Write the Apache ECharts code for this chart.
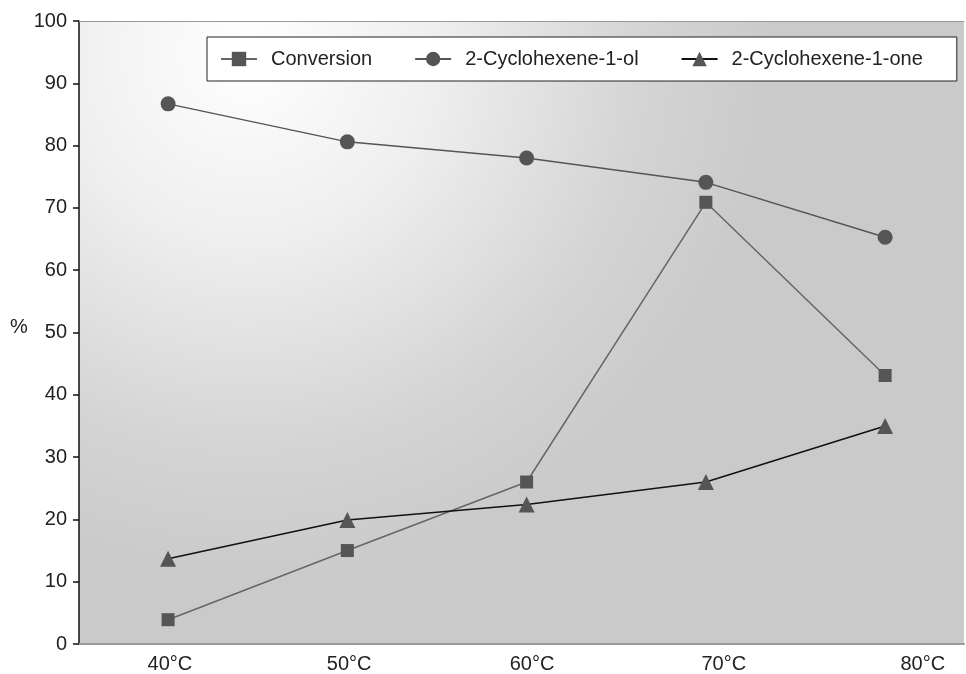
<!DOCTYPE html>
<html>
<head>
<meta charset="utf-8">
<script src="https://cdn.jsdelivr.net/npm/echarts@6/dist/echarts.min.js"></script>
<style>
html,body{margin:0;padding:0;background:#fff;}
#chart{width:966px;height:674px;}
</style>
</head>
<body>
<div id="chart"></div>
<script>
// Data
const temperatures = [40, 50, 60, 70, 80];
const tickLabels = ['40°C', '50°C', '60°C', '70°C', '80°C'];
// positions (in °C units) where the original figure prints its tick labels
const tickLabelPositions = [40.1, 50.1, 60.3, 71.0, 82.1];
const conversion = [3.9, 15.0, 26.0, 70.9, 43.1];
const cyclohexenol = [86.7, 80.6, 78.0, 74.1, 65.3];
const cyclohexenone = [13.7, 19.9, 22.4, 26.0, 35.0];
const seriesNames = ['Conversion', '2-Cyclohexene-1-ol', '2-Cyclohexene-1-one'];

const FONT = '"Liberation Sans", Arial, sans-serif';
const chart = echarts.init(document.getElementById('chart'));

function pairs(vals) { return temperatures.map((t, i) => [t, vals[i]]); }

const xMin = 35.03, xMax = 84.40;

chart.setOption({
  animation: false,
  backgroundColor: '#ffffff',
  textStyle: { fontFamily: FONT },
  grid: {
    left: 79, right: 2, top: 21, bottom: 27,
    show: true, borderWidth: 0,
    backgroundColor: new echarts.graphic.RadialGradient(0.19, 0.05, 0.85, [
      { offset: 0, color: '#ffffff' },
      { offset: 0.35, color: '#efefef' },
      { offset: 0.75, color: '#d4d4d4' },
      { offset: 1, color: '#cacaca' }
    ])
  },
  legend: {
    left: 207, top: 37,
    orient: 'horizontal',
    backgroundColor: '#ffffff',
    borderColor: '#222',
    borderWidth: 1,
    borderRadius: 0,
    padding: [12, 34, 12, 13],
    itemGap: 42,
    itemWidth: 36,
    itemHeight: 18,
    textStyle: { fontSize: 20, color: '#222', fontFamily: FONT, padding: [0, 0, 0, 9] },
    data: seriesNames
  },
  xAxis: [
    {
      type: 'value', position: 'bottom', min: xMin, max: xMax,
      splitLine: { show: false },
      axisLine: { show: true, onZero: false, lineStyle: { color: '#999', width: 2 } },
      axisTick: { show: false },
      axisLabel: {
        customValues: tickLabelPositions,
        formatter: function (v) {
          const i = tickLabelPositions.indexOf(v);
          return i >= 0 ? tickLabels[i] : '';
        },
        fontSize: 20, color: '#222', margin: 10, fontFamily: FONT
      }
    },
    {
      type: 'value', position: 'top', min: xMin, max: xMax,
      splitLine: { show: false },
      axisLine: { show: true, onZero: false, lineStyle: { color: '#999', width: 1 } },
      axisTick: { show: false },
      axisLabel: { show: false }
    }
  ],
  yAxis: {
    type: 'value', min: 0, max: 100, interval: 10,
    splitLine: { show: false },
    axisLine: { show: true, lineStyle: { color: '#111', width: 1.5 } },
    axisTick: { show: true, length: 6, lineStyle: { color: '#111', width: 1.5 } },
    axisLabel: { fontSize: 20, color: '#222', margin: 12, fontFamily: FONT }
  },
  graphic: [
    { type: 'text', left: 10, top: 317, style: { text: '%', fontSize: 20, fill: '#222', fontFamily: FONT } }
  ],
  series: [
    {
      name: seriesNames[0], type: 'line', data: pairs(conversion),
      symbol: 'rect', symbolSize: 13,
      lineStyle: { color: '#666', width: 1.5 },
      itemStyle: { color: '#555' }
    },
    {
      name: seriesNames[1], type: 'line', data: pairs(cyclohexenol),
      symbol: 'circle', symbolSize: 15,
      lineStyle: { color: '#555', width: 1.5 },
      itemStyle: { color: '#555' }
    },
    {
      name: seriesNames[2], type: 'line', data: pairs(cyclohexenone),
      symbol: 'triangle', symbolSize: 16,
      lineStyle: { color: '#111', width: 1.5 },
      itemStyle: { color: '#555' }
    }
  ]
});
</script>
</body>
</html>
